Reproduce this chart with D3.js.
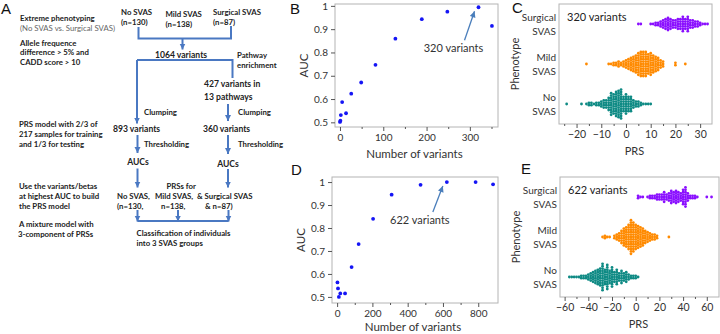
<!DOCTYPE html>
<html>
<head>
<meta charset="utf-8">
<script src="https://cdn.jsdelivr.net/npm/d3@7"></script>
<style>
    body { margin: 0; background: #fff; }
    svg { display: block; }
</style>
</head>
<body>
<div id="chart"></div>
<script>
// B: AUC vs number of variants (best model = 320 variants)
const variantsB = [0, 1, 2, 5, 14, 26, 49, 82, 128, 189, 248, 320, 351];
const aucB = [0.502, 0.507, 0.531, 0.587, 0.539, 0.623, 0.671, 0.747, 0.859, 0.943, 0.975, 0.994, 0.914];

// D: AUC vs number of variants (best model = 622 variants)
const variantsD = [2, 5, 10, 18, 45, 82, 122, 204, 309, 473, 622, 785, 884];
const aucD = [0.563, 0.537, 0.500, 0.515, 0.515, 0.630, 0.730, 0.840, 0.945, 0.988, 1.000, 1.000, 0.990];

const phenotypes = ["Surgical SVAS", "Mild SVAS", "No SVAS"];
const phenoColors = ["#8a0fff", "#ff8a00", "#0e8a84"];

// C: PRS (320 variants), dot counts per 1-unit bin, first bin value
const binStartC = [5, -16, -24];
const countsC_surgical = [1,1,0,0,0,1,1,2,2,3,4,5,6,5,4,4,5,5,7,5,7,4,4,3,3,2,1,1,1];
const countsC_mild = [1,0,0,0,0,0,0,0,0,1,1,2,2,3,2,3,4,5,6,7,8,10,11,11,11,9,10,8,7,6,4,3,0,0,0,0,2,0,0,0,1];
const countsC_no = [1,0,0,0,0,0,1,0,1,2,2,1,2,2,3,4,4,6,10,9,11,12,13,7,9,7,7,4,3,3,2,1,1,1,1];

// E: PRS (622 variants), dot counts per 2-unit bin
const binStartE = [2, -28, -56];
const countsE_surgical = [2,1,1,0,1,2,2,2,3,3,3,5,3,4,6,5,6,5,4,7,9,4,2,2,2,1,0,0,0,1,0,1];
const countsE_mild = [1,2,1,1,0,2,3,4,6,8,9,11,15,13,11,10,9,8,6,5,4,3,3,2,0,0,0,0,1];
const countsE_no = [1,1,1,1,1,2,2,2,3,4,5,6,7,8,12,7,11,6,9,5,7,4,6,4,5,3,2,2,2,1];

const blue = "#4a78c2";
const frameColor = "#b4b4b4";
const chartFont = "Lato, 'Open Sans', sans-serif";
const flowFont = "Lato, 'Open Sans', sans-serif";

let svg = d3.select("#chart").append("svg")
    .attr("width", 720)
    .attr("height", 334);

svg.append("rect").attr("width", 720).attr("height", 334).attr("fill", "white");

let defs = svg.append("defs");
defs.append("marker")
    .attr("id", "flowHead")
    .attr("viewBox", "0 0 10 10")
    .attr("refX", 10).attr("refY", 5)
    .attr("markerUnits", "userSpaceOnUse")
    .attr("markerWidth", 6).attr("markerHeight", 7)
    .attr("orient", "auto")
    .append("path").attr("d", "M0,0 L10,5 L0,10 Z").attr("fill", blue);
defs.append("marker")
    .attr("id", "noteHead")
    .attr("viewBox", "0 0 10 10")
    .attr("refX", 10).attr("refY", 5)
    .attr("markerUnits", "userSpaceOnUse")
    .attr("markerWidth", 7).attr("markerHeight", 6)
    .attr("orient", "auto")
    .append("path").attr("d", "M0,0 L10,5 L0,10 Z").attr("fill", "#4a7ebb");

// panel letters
[["A", 1, 14], ["B", 290, 14], ["C", 512, 13], ["D", 291, 175], ["E", 521, 174]].forEach(d => {
    svg.append("text")
        .attr("x", d[1]).attr("y", d[2])
        .text(d[0])
        .attr("font-family", "'Liberation Sans', Arial, sans-serif")
        .attr("font-size", "15px")
        .attr("fill", "#111");
});

// ---------- A: flowchart ----------
let flow = svg.append("g");

function flowText(x, y, str, opts = {}) {
    flow.append("text")
        .attr("x", x).attr("y", y)
        .attr("dy", "0.35em")
        .attr("text-anchor", opts.anchor || "start")
        .attr("font-family", flowFont)
        .attr("font-size", (opts.size || 7.8) + "px")
        .attr("font-weight", opts.normal ? "normal" : "bold")
        .attr("fill", opts.color || "#222")
        .text(str);
}

flowText(20, 18, "Extreme phenotyping");
flowText(20, 28, "(No SVAS vs. Surgical SVAS)", {normal: true, color: "#666"});
flowText(20, 43, "Allele frequence");
flowText(20, 52.5, "difference > 5% and");
flowText(20, 62, "CADD score > 10");

flowText(121, 12.5, "No SVAS");
flowText(121, 22.5, "(n=130)");
flowText(165.5, 14, "Mild SVAS");
flowText(165.5, 24, "(n=138)");
flowText(213, 12.5, "Surgical SVAS");
flowText(213, 22.5, "(n=87)");

flowText(155, 54.5, "1064 variants", {size: 8.6});
flowText(237, 55, "Pathway");
flowText(237, 65, "enrichment");
flowText(204, 83.5, "427 variants in", {size: 8.6});
flowText(204, 96.5, "13 pathways", {size: 8.6});

flowText(144, 112, "Clumping");
flowText(238, 112, "Clumping");
flowText(113, 129, "893 variants", {size: 8.6});
flowText(203, 129, "360 variants", {size: 8.6});
flowText(144, 144, "Thresholding");
flowText(238, 144, "Thresholding");
flowText(138, 162, "AUCs", {size: 8.6, anchor: "middle"});
flowText(228, 163.5, "AUCs", {size: 8.6, anchor: "middle"});

flowText(19, 124.5, "PRS model with 2/3 of");
flowText(19, 134, "217 samples for training");
flowText(19, 144, "and 1/3 for testing");

flowText(166.5, 186, "PRSs for");
flowText(117, 196, "No SVAS,");
flowText(155, 196, "Mild SVAS,");
flowText(197, 196, "& Surgical SVAS");
flowText(117, 206, "(n=130,");
flowText(161, 206, "n=138,");
flowText(205, 206, "& n=87)");

flowText(19, 186, "Use the variants/betas");
flowText(19, 196.5, "at highest AUC to build");
flowText(19, 206.5, "the PRS model");
flowText(19, 224.5, "A mixture model with");
flowText(18, 234.5, "3-component of PRSs");

flowText(136.5, 233.5, "Classification of individuals");
flowText(136.5, 243.5, "into 3 SVAS groups");

function flowLine(d, head) {
    flow.append("path")
        .attr("d", d)
        .attr("fill", "none")
        .attr("stroke", blue)
        .attr("stroke-width", 2)
        .attr("marker-end", head ? "url(#flowHead)" : null);
}

flowLine("M138.5,27 V38.5 H231 V26");
flowLine("M182.5,38.5 V49.5", true);
flowLine("M137,60 H232.5 V78");
flowLine("M137,60 V123.5", true);
flowLine("M228,104 V121", true);
flowLine("M137.5,135 V153", true);
flowLine("M228,135 V154", true);
flowLine("M137.5,168.5 V187.5", true);
flowLine("M228,169 V187.5", true);
flowLine("M137.5,221 H228.5");
flowLine("M137.5,210 V221.5", true);
flowLine("M178,210 V221.5", true);
flowLine("M228.5,210 V221.5", true);

// ---------- B / D: AUC scatter ----------
function styleAxis(a, size) {
    a.select(".domain").remove();
    a.selectAll(".tick line").attr("stroke", "#555");
    a.selectAll(".tick text")
        .attr("font-family", chartFont)
        .attr("font-size", size || "10px")
        .attr("fill", "#333");
}

function drawScatter(p) {
    let x = d3.scaleLinear().domain(p.xDomain).range([p.x0, p.x1]);
    let y = d3.scaleLinear().domain(p.yDomain).range([p.y1, p.y0]);
    let g = svg.append("g");

    g.append("rect")
        .attr("x", p.x0).attr("y", p.y0)
        .attr("width", p.x1 - p.x0).attr("height", p.y1 - p.y0)
        .attr("fill", "none")
        .attr("stroke", frameColor);

    let xa = g.append("g")
        .attr("transform", `translate(0,${p.y1})`)
        .call(d3.axisBottom(x).tickValues(p.xTicks).tickSize(4).tickPadding(3).tickFormat(d3.format("d")));
    styleAxis(xa);
    let xm = g.append("g")
        .attr("transform", `translate(0,${p.y1})`)
        .call(d3.axisBottom(x).tickValues(p.xMinor).tickSize(2).tickFormat(""));
    styleAxis(xm);

    let ya = g.append("g")
        .attr("transform", `translate(${p.x0},0)`)
        .call(d3.axisLeft(y).tickValues(p.yTicks).tickSize(4).tickPadding(3)
            .tickFormat(d => d === 1 ? "1" : d3.format(".1f")(d)));
    styleAxis(ya);

    g.selectAll(".pt")
        .data(p.xs.map((v, i) => [v, p.ys[i]]))
        .enter().append("circle")
        .attr("class", "pt")
        .attr("cx", d => x(d[0]))
        .attr("cy", d => y(d[1]))
        .attr("r", 1.9)
        .attr("fill", "#1515f5");

    g.append("text")
        .attr("x", (p.x0 + p.x1) / 2 + p.titleShift)
        .attr("y", p.y1 + p.titleGap)
        .attr("text-anchor", "middle")
        .attr("font-family", chartFont)
        .attr("font-size", "11.5px")
        .attr("fill", "#333")
        .text("Number of variants");

    g.append("text")
        .attr("transform", `translate(${p.x0 - 27},${(p.y0 + p.y1) / 2}) rotate(-90)`)
        .attr("text-anchor", "middle")
        .attr("font-family", chartFont)
        .attr("font-size", "11.5px")
        .attr("fill", "#333")
        .text("AUC");

    // annotation arrow to the chosen model
    let best = p.xs.indexOf(p.best);
    let tx = x(p.best) + p.note[0], ty = y(p.ys[best]) + p.note[1];
    g.append("text")
        .attr("x", tx).attr("y", ty)
        .attr("text-anchor", "middle")
        .attr("font-family", chartFont)
        .attr("font-size", "11px")
        .attr("fill", "#333")
        .text(p.best + " variants");
    g.append("line")
        .attr("x1", tx + p.arrow[0]).attr("y1", ty - 12)
        .attr("x2", x(p.best) - p.arrow[1]).attr("y2", y(p.ys[best]) + 4)
        .attr("stroke", "#4a7ebb")
        .attr("stroke-width", 1.3)
        .attr("marker-end", "url(#noteHead)");
}

drawScatter({
    x0: 335, x1: 498, y0: 4, y1: 127,
    xDomain: [-11.5, 365], yDomain: [0.48, 1.008],
    xTicks: [0, 100, 200, 300], xMinor: [50, 150, 250, 350],
    yTicks: [0.5, 0.6, 0.7, 0.8, 0.9, 1],
    xs: variantsB, ys: aucB, best: 320,
    note: [-25, 45], arrow: [11, 4], titleShift: -2, titleGap: 31
});

drawScatter({
    x0: 332, x1: 498, y0: 177, y1: 303,
    xDomain: [-29, 912], yDomain: [0.4735, 1.022],
    xTicks: [0, 200, 400, 600, 800], xMinor: [100, 300, 500, 700],
    yTicks: [0.5, 0.6, 0.7, 0.8, 0.9, 1],
    xs: variantsD, ys: aucD, best: 622,
    note: [-27, 42], arrow: [13, 4], titleShift: -2, titleGap: 28
});

// ---------- C / E: PRS dot strips ----------
function drawSwarm(p) {
    let x = d3.scaleLinear().domain(p.xDomain).range([p.x0, p.x1]);
    let y = d3.scalePoint().domain(phenotypes).range([p.y0, p.y1]).padding(0.5);
    let g = svg.append("g");

    g.append("rect")
        .attr("x", p.x0).attr("y", p.y0)
        .attr("width", p.x1 - p.x0).attr("height", p.y1 - p.y0)
        .attr("fill", "none")
        .attr("stroke", frameColor);

    let xa = g.append("g")
        .attr("transform", `translate(0,${p.y1})`)
        .call(d3.axisBottom(x).tickValues(p.xTicks).tickSize(4).tickPadding(3));
    styleAxis(xa, "10.5px");
    let xm = g.append("g")
        .attr("transform", `translate(0,${p.y1})`)
        .call(d3.axisBottom(x).tickValues(p.xMinor).tickSize(2).tickFormat(""));
    styleAxis(xm);

    // phenotype labels on two lines
    phenotypes.forEach(ph => {
        let parts = ph.split(" ");
        parts.forEach((t, i) => {
            g.append("text")
                .attr("x", p.x0 - 3)
                .attr("y", y(ph) + (i === 0 ? -7 : 7.5))
                .attr("dy", "0.35em")
                .attr("text-anchor", "end")
                .attr("font-family", chartFont)
                .attr("font-size", "10px")
                .attr("fill", "#333")
                .text(t);
        });
    });

    g.append("text")
        .attr("transform", `translate(${p.x0 - 40},${(p.y0 + p.y1) / 2}) rotate(-90)`)
        .attr("text-anchor", "middle")
        .attr("font-family", chartFont)
        .attr("font-size", "11px")
        .attr("fill", "#333")
        .text("Phenotype");

    g.append("text")
        .attr("x", (p.x0 + p.x1) / 2 + p.titleShift)
        .attr("y", p.y1 + 31)
        .attr("text-anchor", "middle")
        .attr("font-family", chartFont)
        .attr("font-size", "11px")
        .attr("fill", "#333")
        .text("PRS");

    g.append("text")
        .attr("x", p.x0 + 8).attr("y", p.y0 + 13)
        .attr("dy", "0.35em")
        .attr("font-family", chartFont)
        .attr("font-size", "11px")
        .attr("fill", "#222")
        .text(p.label);

    // stack the dots of every bin around the phenotype line
    let dots = [];
    phenotypes.forEach((ph, k) => {
        p.counts[k].forEach((n, i) => {
            for (let j = 0; j < n; j++) {
                dots.push({
                    x: x(p.starts[k] + i * p.binWidth),
                    y: y(ph) + (j - (n - 1) / 2) * 2.4,
                    c: phenoColors[k]
                });
            }
        });
    });

    g.selectAll(".dot")
        .data(dots)
        .enter().append("circle")
        .attr("class", "dot")
        .attr("cx", d => d.x)
        .attr("cy", d => d.y)
        .attr("r", 1.4)
        .attr("fill", d => d.c);
}

drawSwarm({
    x0: 559, x1: 712, y0: 4, y1: 124,
    xDomain: [-27.1, 34.8], binWidth: 1,
    xTicks: [-20, -10, 0, 10, 20, 30], xMinor: [-25, -15, -5, 5, 15, 25],
    starts: binStartC,
    counts: [countsC_surgical, countsC_mild, countsC_no],
    label: "320 variants", titleShift: -1
});

drawSwarm({
    x0: 560, x1: 719, y0: 177, y1: 297,
    xDomain: [-63.9, 70.3], binWidth: 2,
    xTicks: [-60, -40, -20, 0, 20, 40, 60], xMinor: [-50, -30, -10, 10, 30, 50],
    starts: binStartE,
    counts: [countsE_surgical, countsE_mild, countsE_no],
    label: "622 variants", titleShift: -1
});
</script>
</body>
</html>
